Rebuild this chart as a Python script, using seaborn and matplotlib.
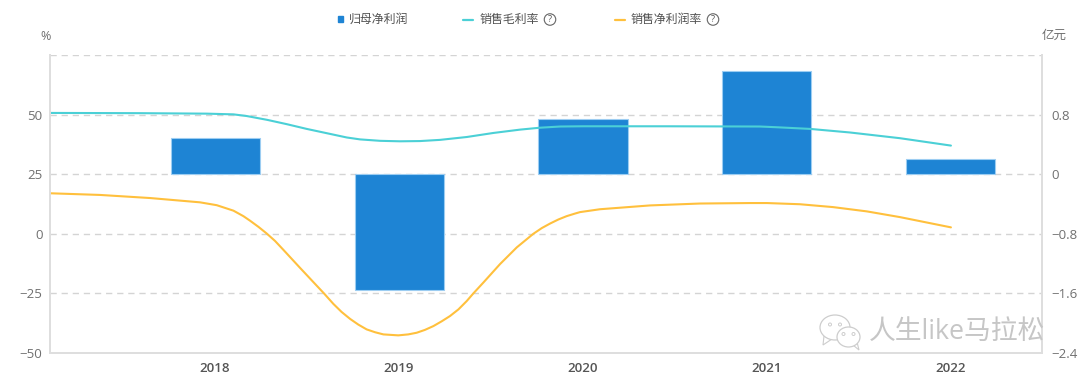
import matplotlib
matplotlib.use('Agg')
import matplotlib.pyplot as plt
import matplotlib.patches as mpatches
import matplotlib.lines as mlines
import seaborn as sns

years = ['2018', '2019', '2020', '2021', '2022']
profit = [0.492, -1.552, 0.74, 1.389, 0.21]

# curves, x in category units (2018 = 0)
gross_x = [-0.897, -0.408, -0.045, 0.10, 0.172, 0.283, 0.389, 0.498, 0.607, 0.716, 0.788, 0.897,
           1.005, 1.114, 1.223, 1.368, 1.513, 1.658, 1.766, 1.875, 2.0, 2.455, 2.962,
           3.052, 3.234, 3.451, 3.723, 4.0]
gross = [50.7, 50.6, 50.4, 50.1, 49.4, 47.8, 46.0, 44.0, 42.2, 40.4, 39.6, 39.0,
         38.8, 38.9, 39.4, 40.6, 42.3, 43.7, 44.5, 45.0, 45.1, 45.1, 45.0,
         44.7, 44.0, 42.5, 40.1, 37.0]

net_x = [-0.897, -0.625, -0.353, -0.082, 0.009, 0.1, 0.154, 0.19, 0.236, 0.281, 0.326, 0.371, 0.462,
         0.553, 0.592, 0.643, 0.688, 0.734, 0.779, 0.824, 0.87, 0.915, 0.996, 1.05, 1.096,
         1.141, 1.187, 1.232, 1.277, 1.323, 1.368, 1.404, 1.459, 1.549, 1.64, 1.73, 1.776,
         1.821, 1.866, 1.911, 1.957, 1.984, 2.092, 2.364, 2.636, 2.908, 3.0, 3.179, 3.359,
         3.543, 3.723, 4.0]
net = [17.0, 16.3, 15.0, 13.2, 12.0, 9.7, 7.4, 5.5, 2.9, 0.1, -3.0, -6.7, -14.3,
       -21.8, -25.0, -29.4, -32.8, -35.7, -38.1, -40.1, -41.3, -42.2, -42.6, -42.2, -41.5,
       -40.3, -38.7, -36.7, -34.5, -31.7, -28.2, -25.0, -20.4, -12.7, -5.7, 0.0, 2.4,
       4.3, 6.0, 7.4, 8.5, 9.1, 10.3, 11.9, 12.7, 12.9, 12.9, 12.4, 11.2,
       9.4, 7.0, 2.7]

pct_ticks = [-50, -25, 0, 25, 50]
amt_ticks = [-2.4, -1.6, -0.8, 0, 0.8]
amt_labels = ['\u22122.4', '\u22121.6', '\u22120.8', '0', '0.8']
pct_labels = ['\u221250', '\u221225', '0', '25', '50']

BLUE = '#1E84D4'
TEAL = '#4BD0D6'
GOLD = '#FFC03D'
GRID = '#D4D4D4'
AXIS = '#DEDEDE'
TXT = '#707070'

sns.set_theme(style='white')
plt.rcParams['font.family'] = ['Open Sans', 'Noto Sans CJK SC', 'DejaVu Sans']
plt.rcParams['axes.unicode_minus'] = False

W, H = 1080, 381
fig = plt.figure(figsize=(W / 100, H / 100), dpi=100)
ax = fig.add_axes([49.5 / W, 1 - 353 / H, (1042 - 49.5) / W, (353 - 55) / H])
ax_r = ax.twinx()

sns.barplot(x=years, y=profit, ax=ax_r, color=BLUE, saturation=1, width=0.484,
            edgecolor='#9CCDF2', linewidth=0.8, zorder=3)
sns.lineplot(x=gross_x, y=gross, ax=ax, color=TEAL, linewidth=1.5, estimator=None, sort=False)
sns.lineplot(x=net_x, y=net, ax=ax, color=GOLD, linewidth=1.5, estimator=None, sort=False)

# lines above the bars, grid below
ax.set_zorder(2)
ax_r.set_zorder(1)
ax.patch.set_visible(False)

ax.set_xlim(-0.9, 4.495)
ax.set_ylim(-50, 75)
ax_r.set_ylim(-2.4, 1.6)
ax.set_xticks(range(5))
ax.set_xticklabels(years, fontsize=9.5, color='#555555', fontweight='semibold')
ax.set_yticks(pct_ticks + [75])
ax.set_yticklabels(pct_labels + [''], fontsize=9.5, color=TXT)
ax_r.set_yticks(amt_ticks)
ax_r.set_yticklabels(amt_labels, fontsize=9.5, color=TXT)
ax.tick_params(axis='both', length=0)
ax.tick_params(axis='x', pad=6.7)
ax.tick_params(axis='y', pad=5)
ax_r.tick_params(axis='y', length=0, pad=7)
ax.set_xlabel('')
ax.set_ylabel('')
ax_r.set_ylabel('')

ax_r.grid(False)
ax_r.set_axisbelow(True)
for v in pct_ticks[1:] + [75]:
    ax_r.axhline((v + 50) / 125 * 4 - 2.4, color=GRID, linewidth=1.0, linestyle=(0, (4.5, 3.5)), zorder=1)

for a in (ax, ax_r):
    a.spines['top'].set_visible(False)
    for s in ('left', 'right', 'bottom'):
        a.spines[s].set_color(AXIS)
        a.spines[s].set_linewidth(1.4)

# axis units
fig.text(46 / W, 1 - 36 / H, '%', fontsize=9, color=TXT, ha='center', va='center')
fig.text(1054 / W, 1 - 35 / H, '亿元', fontsize=9, color=TXT, ha='center', va='center')

# legend, placed by hand like the original
LEG = '#505050'
fig.add_artist(mpatches.Rectangle((337.5 / W, 1 - 22 / H), 5.5 / W, 5.5 / H, color=BLUE, transform=fig.transFigure))
fig.text(349 / W, 1 - 19.5 / H, '归母净利润', fontsize=8.6, color=LEG, va='center')
fig.add_artist(mlines.Line2D([463 / W, 473 / W], [1 - 19.5 / H] * 2, color=TEAL, linewidth=1.6))
fig.text(480 / W, 1 - 19.5 / H, '销售毛利率', fontsize=8.6, color=LEG, va='center')
fig.add_artist(mlines.Line2D([615 / W, 625 / W], [1 - 19.5 / H] * 2, color=GOLD, linewidth=1.6))
fig.text(631 / W, 1 - 19.5 / H, '销售净利润率', fontsize=8.6, color=LEG, va='center')
for cx in (550, 713):
    fig.add_artist(mpatches.Ellipse((cx / W, 1 - 19.5 / H), 11.5 / W, 11.5 / H, facecolor='white',
                                    edgecolor='#666666', linewidth=0.8, transform=fig.transFigure))
    fig.text(cx / W, 1 - 19.5 / H, '?', fontsize=6.5, color='#555555', ha='center', va='center')

# watermark
WM = '#CDCDCD'
for cx, cy, rx, ry, tail in [(835, 327.5, 15, 12.5, [(824, 336), (823, 345), (832, 339)]),
                             (848.5, 337, 11.5, 10, [(853, 345), (859, 350), (857, 342)])]:
    fig.add_artist(mpatches.Polygon([(x / W, 1 - y / H) for x, y in tail], facecolor='white',
                                    edgecolor=WM, linewidth=0.8, transform=fig.transFigure))
    fig.add_artist(mpatches.Ellipse((cx / W, 1 - cy / H), 2 * rx / W, 2 * ry / H, facecolor='white',
                                    edgecolor=WM, linewidth=0.9, transform=fig.transFigure))
    for dx in (-5, 5):
        fig.add_artist(mpatches.Ellipse(((cx + dx) / W, 1 - (cy - 3) / H), 3 / W, 3 / H, facecolor='white',
                                        edgecolor=WM, linewidth=0.7, transform=fig.transFigure))
fig.text(869 / W, 1 - 332 / H, '人生like马拉松', fontsize=19.3, color='#C6C6C6', va='center')

plt.savefig('out.png', dpi=100)
